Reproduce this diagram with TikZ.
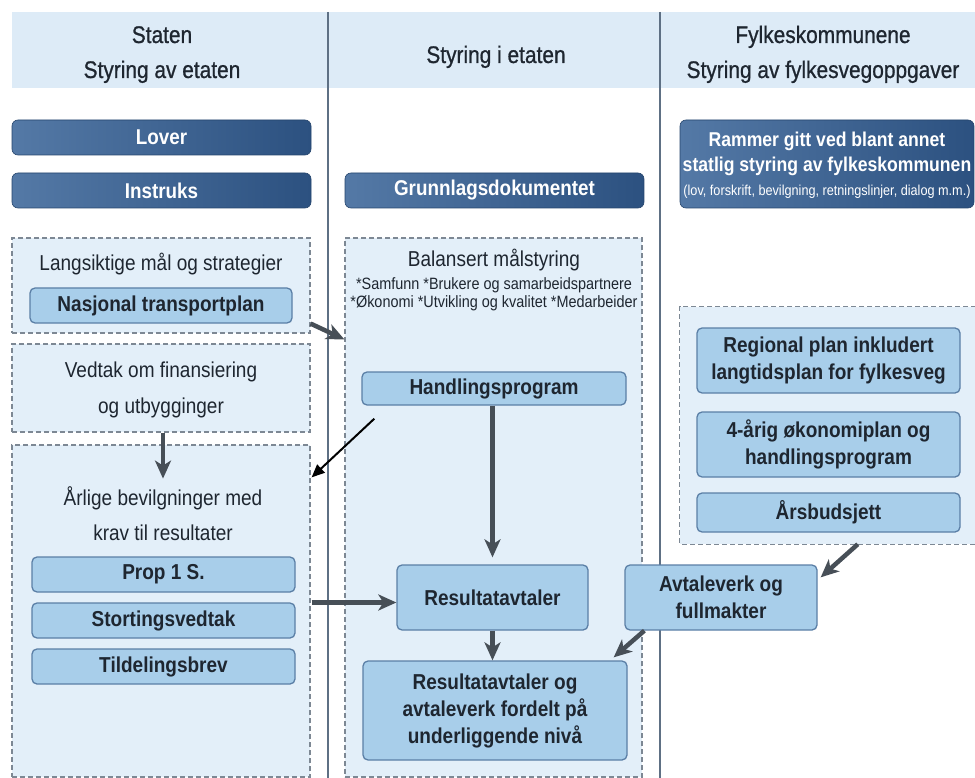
\documentclass[tikz,border=0pt]{standalone}
\usepackage{fontspec}
\setmainfont{Liberation Sans}[FakeStretch=0.88]
\newfontfamily\headfamily{Liberation Sans}[FakeStretch=0.87, FakeBold=0.8]
\usetikzlibrary{arrows.meta,calc}

\definecolor{band}{HTML}{DDEBF7}
\definecolor{panelfill}{HTML}{E3EFF9}
\definecolor{boxfill}{HTML}{A8CEEA}
\definecolor{boxedge}{HTML}{5B7FA6}
\definecolor{darkL}{HTML}{5479A6}
\definecolor{darkR}{HTML}{2C5180}
\definecolor{ink}{HTML}{1E2630}
\definecolor{dashgray}{HTML}{7D8894}
\definecolor{sepline}{HTML}{5E7084}
\definecolor{arrgray}{HTML}{474F57}

\newcommand\headfont{\headfamily\fontsize{24}{35}\selectfont}
\newcommand\bodyfont{\fontsize{21.6}{36}\selectfont}
\newcommand\smallfont{\fontsize{16.4}{20}\selectfont}
\newcommand\boxfont{\bfseries\fontsize{21.6}{27}\selectfont}
\newcommand\darkfont{\bfseries\fontsize{21.4}{25}\selectfont}
\newcommand\ramfont{\bfseries\fontsize{20}{25}\selectfont}
\newcommand\tinyfont{\fontsize{14.4}{15}\selectfont}

\begin{document}
\begin{tikzpicture}[x=1pt,y=-1pt,
  lbox/.style={draw=boxedge, fill=boxfill, line width=1.3pt, rounded corners=5pt,
    font=\boxfont, text=ink, align=center, inner sep=0pt},
  dark/.style={rounded corners=6pt, left color=darkL, right color=darkR,
    draw=darkR!85!black, line width=0.6pt, font=\darkfont, text=white, inner sep=0pt},
  panel/.style={fill=panelfill, draw=dashgray, dash pattern=on 5pt off 3pt,
    line width=1.2pt, inner sep=0pt},
  dashline/.style={draw=dashgray, dash pattern=on 5pt off 3pt, line width=1.2pt},
  txt/.style={font=\bodyfont, text=ink, anchor=base, inner sep=0pt},
  smalltxt/.style={font=\smallfont, text=ink, anchor=base, inner sep=0pt},
  head/.style={font=\headfont, text=ink, anchor=base, inner sep=0pt},
  arr/.style={draw=arrgray, line width=4.5pt, -{Stealth[length=18pt,width=16pt,inset=5pt]}},
  thinarr/.style={draw=black, line width=2pt, -{Triangle[length=13pt,width=11pt]}}
]
\useasboundingbox (0,0) rectangle (975,778);
\fill[white] (0,0) rectangle (975,778);

% header band and column separators
\fill[band] (12,12) rectangle (975,88);
\draw[sepline, line width=1.6pt] (328,12) -- (328,778);
\draw[sepline, line width=1.6pt] (660,12) -- (660,778);

% column headings
\node[head] (h1a) at (162,43) {Staten};
\node[head] (h1b) at (162,78) {Styring av etaten};
\node[head] (h2)  at (496,63) {Styring i etaten};
\node[head] (h3a) at (823,43) {Fylkeskommunene};
\node[head] (h3b) at (823,78) {Styring av fylkesvegoppgaver};

% dark framework boxes
\node[dark, minimum width=299, minimum height=35] (lover) at (161.5,137.5) {Lover};
\node[dark, minimum width=299, minimum height=35] (instruks) at (161.5,190.5) {Instruks};
\node[dark, minimum width=299, minimum height=35] (grunn) at (494.5,190.5) {Grunnlagsdokumentet};
\node[dark, minimum width=294, minimum height=88] (rammer) at (827,164) {};
\node[font=\ramfont, text=white, anchor=base, inner sep=0pt] (ram1) at (827,147) {Rammer gitt ved blant annet};
\node[font=\ramfont, text=white, anchor=base, inner sep=0pt] (ram2) at (827,172) {statlig styring av fylkeskommunen};
\node[font=\tinyfont, text=white, anchor=base, inner sep=0pt] (ram3) at (827,196) {(lov, forskrift, bevilgning, retningslinjer, dialog m.m.)};

% left column panels
\node[panel, minimum width=298, minimum height=95] (lang) at (161,285.5) {};
\node[txt] (langt) at (161,270) {Langsiktige mål og strategier};
\node[lbox, minimum width=262, minimum height=35] (ntp) at (161,305.5) {Nasjonal transportplan};

\node[panel, minimum width=298, minimum height=88] (vedtak) at (161,388) {};
\node[txt] (vedt1) at (161,377) {Vedtak om finansiering};
\node[txt] (vedt2) at (161,413) {og utbygginger};

\node[panel, minimum width=298, minimum height=332] (arlige) at (161,611) {};
\node[txt] (arl1) at (163,505) {Årlige bevilgninger med};
\node[txt] (arl2) at (163,540) {krav til resultater};
\node[lbox, minimum width=263, minimum height=35] (prop) at (163.5,574.5) {Prop 1 S.};
\node[lbox, minimum width=263, minimum height=35] (storting) at (163.5,620.5) {Stortingsvedtak};
\node[lbox, minimum width=263, minimum height=35] (tildeling) at (163.5,666.5) {Tildelingsbrev};

% middle column panel
\node[panel, minimum width=297, minimum height=539] (mid) at (493.5,507.5) {};
\node[txt] (bal) at (494,267) {Balansert målstyring};
\node[smalltxt] (bal1) at (494,290) {*Samfunn *Brukere og samarbeidspartnere};
\node[smalltxt] (bal2) at (494,308) {*Økonomi *Utvikling og kvalitet *Medarbeider};
\node[lbox, minimum width=264, minimum height=33] (handl) at (494,388.5) {Handlingsprogram};
\node[lbox, minimum width=191, minimum height=65] (resavt) at (492.5,597.5) {Resultatavtaler};
\node[lbox, minimum width=264, minimum height=99] (fordelt) at (495,710.5)
  {Resultatavtaler og\\avtaleverk fordelt på\\underliggende nivå};

% right column panel (open towards the right margin)
\node[fill=panelfill, inner sep=0pt, minimum width=296, minimum height=237] (rp) at (828,425.5) {};
\draw[dashline] (rp.north east) -- (rp.north west) -- (rp.south west) -- (rp.south east);
\node[lbox, minimum width=263, minimum height=65] (regional) at (828.5,360.5)
  {Regional plan inkludert\\langtidsplan for fylkesveg};
\node[lbox, minimum width=263, minimum height=65] (fireaar) at (828.5,444.5)
  {4-årig økonomiplan og\\handlingsprogram};
\node[lbox, minimum width=263, minimum height=39] (arsbud) at (828.5,512.5) {Årsbudsjett};

\node[lbox, minimum width=192, minimum height=65] (avtale) at (721,597.5)
  {Avtaleverk og\\fullmakter};

% connectors
\draw[arr] ($(lang.south east)+(0,-10)$) -- ($(mid.north west)+(0,102)$);
\draw[arr] ($(vedtak.south)+(2,0)$) -- ++(0,46);
\draw[arr] (handl.south -| resavt.north) -- (resavt.north) [shorten >=7pt];
\draw[arr] (resavt.south) -- (resavt.south |- fordelt.north);
\draw[arr] ($(arlige.east |- resavt.west)+(1,5)$) -- ($(resavt.west)+(0,5)$);
\draw[arr] ($(rp.south west)+(178,0)$) -- ($(avtale.north east)+(3,13)$);
\draw[arr] ($(avtale.south west)+(20,0)$) -- ($(fordelt.north east)+(-14,-3)$);
\draw[thinarr] ($(handl.south west)+(13,13)$) -- ($(arlige.north east)+(1,33)$);
\end{tikzpicture}
\end{document}
